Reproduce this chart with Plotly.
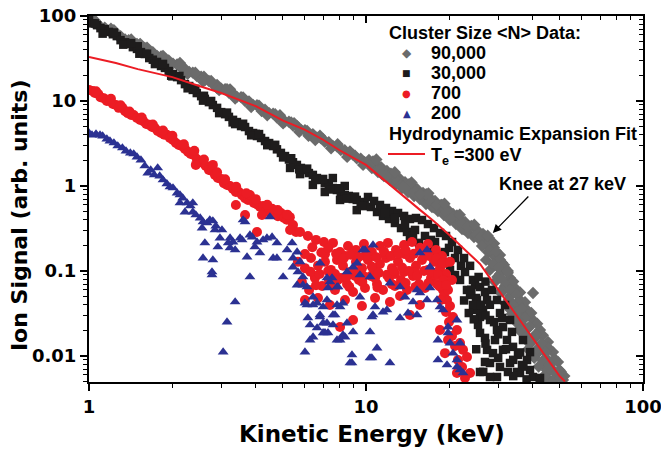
import math
import plotly.graph_objects as go

# ---------------- data (keV, ion signal) ----------------
N90000_A = [(1.00,90),(1.03,84),(1.07,81),(1.10,75),(1.14,73),(1.18,67),(1.22,65),(1.26,60),(1.30,58),(1.35,53),
            (1.39,52),(1.44,48),(1.49,47),(1.54,43),(1.59,42),(1.65,38),(1.70,37.5),(1.76,34),(1.82,33.5),(1.88,30.5),
            (1.94,30),(2.01,27.5),(2.08,27),(2.15,24.5),(2.22,24),(2.30,22),(2.37,21.6),(2.45,19.6),(2.54,19.3),(2.62,17.5),
            (2.71,17.2),(2.80,15.7),(2.90,15.5),(3.00,14.0),(3.10,13.8),(3.20,12.5),(3.31,12.3),(3.42,11.2),(3.54,11.1),(3.66,10.0),
            (3.78,9.9),(3.91,9.0),(4.04,8.9),(4.18,8.0),(4.32,7.9),(4.47,7.2),(4.62,7.1),(4.77,6.4),(4.93,6.35),(5.10,5.75),
            (5.27,5.7),(5.45,5.15),(5.63,5.1),(5.82,4.6),(6.02,4.55),(6.22,4.1),(6.43,4.08),(6.65,3.7),(6.87,3.65),(7.10,3.3),
            (7.34,3.28),(7.59,2.95),(7.85,2.93),(8.11,2.65),(8.38,2.63),(8.67,2.36),(8.96,2.35),(9.26,2.12),(9.57,2.1),(9.89,1.9),
            (1.53,47),(2.13,28),(3.23,13.7),(4.89,6.8),(6.82,3.9),(8.75,2.55),(1.2,71),(2.6,19.3),(5.5,5.5),(7.9,3.1),
            (1.8,31.5),(2.9,14.2),(4.2,7.6),(6.2,3.9)]
N90000_A2 = [(1.05,88.7),(1.12,69),(1.23,68),(1.33,51.5),(1.42,53),(1.52,41),(1.62,42.5),(1.73,33),(1.85,34),(1.98,26.3),
             (2.12,27),(2.27,20.9),(2.42,21.5),(2.58,16.9),(2.76,17.2),(2.95,13.4),(3.15,13.8),(3.37,10.7),(3.6,11),(3.85,8.5),
             (4.11,8.8),(4.4,6.8),(4.7,7.0),(5.02,5.45),(5.37,5.6),(5.74,4.35),(6.13,4.45),(6.56,3.47),(7.0,3.56),(7.48,2.78),
             (8.0,2.85),(8.55,2.2),(9.13,2.27),(9.76,1.77)]
N90000_B = [(10.25,2.02),(10.5,1.63),(10.78,1.86),(11.05,1.46),(11.33,1.67),(11.61,1.31),(11.9,1.50),(12.2,1.18),(12.52,1.35),
            (12.83,1.06),(13.16,1.24),(13.49,0.947),(13.83,1.11),(14.18,0.85),(14.54,1.03),(14.91,0.763),(15.28,0.922),(15.66,0.703),
            (16.06,0.827),(16.47,0.614),(16.88,0.742),(17.31,0.566),(17.75,0.666),(18.19,0.508),(18.65,0.598),(19.12,0.456),
            (19.61,0.536),(20.1,0.398),(20.61,0.468),(21.13,0.357),(21.66,0.42),(22.22,0.312),(22.77,0.377),(23.35,0.28),
            (23.93,0.329),(24.54,0.251),(25.16,0.304),(25.8,0.232),(26.45,0.272),(27.12,0.208),(27.8,0.244),(28.5,0.192),
            (11.2,1.55),(13.0,1.15),(15.0,0.86),(17.0,0.66),(19.5,0.5),(22.0,0.37),(25.0,0.27),
            (10.6,1.95),(11.4,1.38),(12.3,1.4),(13.3,1.02),(14.3,1.05),(15.4,0.76),(16.5,0.8),(17.6,0.56),(18.8,0.6),
            (20.0,0.41),(21.3,0.45),(22.6,0.31),(24.0,0.34),(25.5,0.245),(26.9,0.255),(28.0,0.21),(29.0,0.21),(27.0,0.23),
            (10.9,2.05),(11.8,1.3),(12.7,1.45),(13.6,0.98),(14.6,1.1),(15.7,0.8),(16.8,0.82),(18.0,0.6),(19.2,0.62),
            (20.5,0.43),(21.8,0.46),(23.2,0.33),(24.6,0.35),(26.0,0.25),(27.5,0.26)]
N90000_C = [(26.23,0.197),(27.56,0.167),(28.98,0.187),(27.12,0.135),(29.47,0.128),(30.46,0.154),(28.03,0.103),(30.46,0.0922),
            (31.76,0.108),(29.22,0.0743),(31.76,0.0666),(33.11,0.0827),(30.46,0.0566),(33.11,0.0508),(34.5,0.0631),(40.08,0.0551),
            (32.01,0.0409),(34.5,0.0388),(35.97,0.0456),(33.65,0.0312),(36.57,0.0296),(38.13,0.0348),(35.38,0.0238),(38.44,0.0214),
            (40.08,0.0265),(37.2,0.0181),(40.75,0.0163),(42.48,0.0202),(39.09,0.0138),(42.48,0.0124),(45.4,0.0146),(41.43,0.0106),
            (44.65,0.00947),(47.33,0.0111),(43.19,0.00805),(46.55,0.00722),(49.33,0.0085),(44.65,0.00614),(48.12,0.00551),
            (50.58,0.00648),(46.16,0.00508),(42.48,0.00522),(51.42,0.00522),
            (29.0,0.15),(31.0,0.125),(32.5,0.095),(34.0,0.075),(36.0,0.056),(37.5,0.043),(39.5,0.032),(41.5,0.024),
            (43.5,0.0175),(45.5,0.0125),(48.0,0.0092),(50.0,0.0068),
            (28.0,0.175),(29.5,0.17),(30.5,0.135),(28.8,0.12),(31.5,0.118),(30.0,0.11),(32.5,0.1),(29.8,0.085),(31.0,0.08),
            (33.5,0.072),(32.0,0.068),(31.2,0.058),(34.8,0.054),(33.0,0.06),(32.8,0.046),(35.5,0.042),(34.0,0.04),(33.2,0.035),
            (36.5,0.036),(35.0,0.033),(34.6,0.027),(37.5,0.028),(36.2,0.024),(35.8,0.02),(39.0,0.022),(37.8,0.017),(41.0,0.018),
            (39.5,0.015),(38.5,0.012),(43.0,0.014),(41.5,0.012),(40.5,0.0095),(44.5,0.011),(43.5,0.0088),(42.0,0.0075),
            (46.0,0.0078),(45.0,0.0068),(44.0,0.0058),(48.5,0.0062),(47.5,0.0052),(52.0,0.0058),(50.5,0.0055)]

N30000_A = [(1.00,89.5),(1.03,82),(1.07,78),(1.10,72),(1.14,70),(1.18,65),(1.22,61),(1.26,58),(1.30,52),(1.35,49),(1.39,47),
            (1.44,43),(1.49,41),(1.54,37.6),(1.59,35.7),(1.65,32),(1.70,30.6),(1.76,28.8),(1.82,25.8),(1.88,24.5),(1.94,22.5),
            (2.01,20.8),(2.08,19.1),(2.15,17.6),(2.22,15.8),(2.30,15.0),(2.37,13.5),(2.45,12.4),(2.54,11.4),(2.62,10.6),(2.71,9.7),
            (2.80,8.96),(2.90,8.3),(3.00,7.4),(3.10,7.0),(3.20,6.5),(3.31,6.0),(3.42,5.65),(3.54,5.07),(3.66,4.94),(3.78,4.43),
            (3.91,4.20),(4.04,3.87),(4.18,3.67),(4.32,3.38),(4.47,3.20),(4.62,2.95),(4.77,2.70),(4.93,2.45),(5.10,2.25),(5.27,2.05),
            (5.45,1.90),(5.63,1.77),(5.82,1.63),(6.02,1.54),(6.22,1.42),(6.43,1.35),(6.65,1.24),(6.87,1.18),(7.10,1.08),(7.34,1.03),
            (7.59,0.947),(7.85,0.897),(8.11,0.85),(8.38,0.784),(8.67,0.763),(8.96,0.703),(9.26,0.685),(9.57,0.648),(9.89,0.614),
            (7.59,1.24),(6.43,1.03),(8.38,1.0),(9.26,0.52),(8.06,0.685),(7.10,0.85),(5.78,1.38),(5.32,1.63),
            (1.5,44),(2.0,19.5),(2.6,11.5),(3.3,5.6),(4.0,4.1)]
N30000_A2 = [(1.05,82),(1.12,62),(1.23,64),(1.33,46),(1.42,48),(1.52,36),(1.62,36),(1.73,27.2),(1.85,27.3),(1.98,19.8),
             (2.12,19.7),(2.27,14.1),(2.42,13.9),(2.58,10.1),(2.76,10.0),(2.95,7.2),(3.15,7.3),(3.37,5.35),(3.6,5.4),(3.85,3.95),
             (4.11,4.08),(4.4,3.02),(4.7,3.05),(5.02,2.17),(5.37,2.12),(5.74,1.57),(6.13,1.6),(6.56,1.18),(7.0,1.21),(7.48,0.91),
             (8.0,0.94),(8.55,0.71),(9.13,0.75),(9.76,0.58)]
N30000_B = [(10.17,0.742),(10.42,0.566),(10.69,0.666),(10.96,0.494),(11.23,0.598),(11.52,0.444),(11.81,0.551),(12.11,0.409),
            (12.41,0.508),(12.72,0.367),(13.05,0.481),(13.38,0.320),(13.72,0.444),(14.06,0.288),(14.41,0.409),(14.78,0.258),
            (15.15,0.420),(15.54,0.214),(15.93,0.398),(16.33,0.182),(16.74,0.357),(17.17,0.232),(17.6,0.320),(18.05,0.158),
            (18.5,0.280),(18.97,0.128),(19.45,0.258),(19.94,0.187),(20.44,0.219),(20.96,0.0897),(21.48,0.177),(22.03,0.115),
            (22.59,0.142),(23.15,0.0598),(23.75,0.115),(24.34,0.0784),(24.95,0.0481),
            (11.71,0.481),(12.72,0.420),(13.83,0.357),(15.03,0.304),(16.33,0.258),(17.75,0.219),(19.28,0.167),(20.96,0.142),
            (22.77,0.0973),(24.75,0.0684),(14.41,0.232),(17.02,0.177),(20.1,0.103),(21.85,0.0784)]
N30000_C = [(25.8,0.0648),(27.35,0.0456),(26.45,0.0348),(28.03,0.0265),(29.71,0.0456),(30.46,0.0320),(29.71,0.0202),
            (31.23,0.0219),(33.11,0.0265),(32.28,0.0154),(33.94,0.0128),(27.35,0.0118),(28.03,0.00827),(30.46,0.00743),
            (33.11,0.00827),(35.97,0.00631),(39.09,0.00684),(40.08,0.00566),(36.88,0.0154),(31.23,0.0118),(28.74,0.0108),
            (25.8,0.0187),(25.8,0.0288),(29.71,0.00566),(32.55,0.00648),(28.03,0.00566),(39.09,0.0111),(36.57,0.00784),
            (35.09,0.00648),(25.8,0.00648),(25.16,0.0456),(26.89,0.0566),(28.5,0.0598),(24.75,0.0348),(25.37,0.0232),
            (26.89,0.0163),(29.22,0.0154),(31.76,0.0398),(33.65,0.0192),(35.38,0.0103),(38.13,0.00897),(42.48,0.00551),
            (26.89,0.0085),(23.75,0.0522),(24.34,0.0398),
            (26.0,0.04),(27.0,0.03),(28.0,0.04),(29.0,0.025),(30.0,0.018),(31.0,0.028),(32.0,0.012),(34.0,0.009),(36.0,0.011),
            (37.0,0.0075),(30.0,0.0095),(27.0,0.014),(25.0,0.012),(26.5,0.0065),(34.0,0.0058),(38.0,0.0053),(24.5,0.027),
            (23.5,0.032),(22.6,0.045),(24.0,0.06),(25.5,0.085),(27.0,0.075)]

N700_A = [(1.00,13.5),(1.03,13.1),(1.05,12.4),(1.08,12.1),(1.10,11.1),(1.13,10.8),(1.16,10.0),(1.19,10.0),(1.22,9.2),(1.25,8.96),
          (1.28,8.3),(1.32,8.3),(1.35,7.6),(1.38,7.2),(1.42,6.85),(1.45,6.85),(1.49,6.3),(1.53,6.0),(1.57,5.8),(1.61,5.35),
          (1.65,5.24),(1.69,4.94),(1.73,4.8),(1.77,4.43),(1.82,4.2),(1.87,4.0),(1.91,4.0),(1.96,3.67),(2.01,3.48),(2.06,3.2),
          (2.11,3.04),(2.16,2.95),(2.22,2.73),(2.28,2.51),(2.33,2.38),(2.39,2.32),(2.45,2.08),(2.52,1.91),(2.58,1.86),(2.64,1.72),
          (2.71,1.54),(2.78,1.50),(2.85,1.35),(2.92,1.24),(3.00,1.21),(3.07,1.08),(3.15,1.03),(3.23,1.00),(3.31,0.92),(3.39,0.85),
          (3.48,0.85),(3.57,0.78),(3.66,0.72),(3.75,0.685),(3.84,0.70),(3.94,0.63),(4.04,0.61),(4.14,0.57),(4.25,0.58),(4.36,0.52),
          (4.47,0.49),(4.58,0.54),(4.69,0.47),(4.81,0.44),(4.93,0.48),(5.06,0.42),(5.18,0.40),(5.31,0.43),
          (2.43,1.77),(2.80,1.77),(3.81,0.784),(4.21,0.456),(5.45,0.348),(5.59,0.288),(4.04,0.288),(3.66,0.456),(3.39,0.598),
          (5.32,0.304),
          (1.06,13.0),(1.2,10.6),(1.3,8.9),(1.4,7.5),(1.55,6.4),(1.7,5.3),(1.85,4.5),(2.0,3.9),(2.2,3.1),(2.4,2.6),(2.6,2.05),
          (2.9,1.45),(3.1,1.2),(3.4,0.98),(3.7,0.82),(4.0,0.7),(4.4,0.6),(4.8,0.52),(5.2,0.46)]
N700_B = [(5.78,0.288),(6.17,0.258),(6.60,0.232),(7.05,0.219),(7.60,0.214),(8.06,0.167),(8.61,0.197),(9.20,0.177),(9.83,0.208),
          (10.5,0.167),(11.23,0.197),(12.0,0.214),(12.83,0.177),(13.72,0.202),(14.66,0.219),(15.66,0.187),(16.74,0.208),
          (17.89,0.177),(18.81,0.150),
          (5.68,0.128),(6.02,0.108),(6.33,0.142),(6.71,0.115),(7.11,0.128),(7.47,0.103),(7.86,0.135),(8.26,0.115),(8.75,0.0973),
          (9.20,0.128),(9.67,0.108),(10.17,0.135),(10.69,0.103),(11.23,0.121),(11.81,0.142),(12.41,0.108),(13.05,0.128),
          (13.72,0.0973),(14.41,0.142),(15.15,0.115),(15.93,0.135),(16.74,0.103),(17.6,0.128),(18.5,0.108),(19.45,0.0922),
          (5.87,0.0743),(6.23,0.0598),(6.54,0.0827),(6.94,0.0666),(7.35,0.0784),(7.73,0.0598),(8.12,0.0827),(8.54,0.0703),
          (8.98,0.0566),(9.43,0.0784),(9.92,0.0631),(10.42,0.0873),(10.96,0.0703),(11.52,0.0598),(12.11,0.0827),(12.72,0.0666),
          (13.38,0.0784),(14.06,0.0598),(14.78,0.0873),(15.54,0.0703),(16.33,0.0631),(17.17,0.0827),(18.05,0.0703),(18.97,0.0598),
          (6.02,0.158),(6.54,0.0873),(7.11,0.158),(7.73,0.0922),(8.40,0.150),(9.13,0.0873),(9.92,0.150),(10.78,0.0827),
          (11.71,0.158),(12.72,0.0922),(13.83,0.158),(15.03,0.0973),(16.33,0.154),(17.75,0.0897),(19.28,0.124),
          (6.02,0.0456),(6.71,0.0481),(8.06,0.0219),(8.98,0.0265),(7.41,0.0398),(8.40,0.0456),(9.67,0.0388),(10.78,0.0481),
          (12.2,0.0432),(14.41,0.0304),(15.66,0.0398),(13.27,0.0508),
          (6.4,0.19),(6.9,0.165),(7.3,0.185),(7.8,0.16),(8.3,0.14),(8.8,0.155),(9.4,0.145),(10.0,0.175),(10.9,0.145),(11.6,0.17),
          (12.3,0.15),(13.1,0.16),(13.9,0.175),(14.9,0.16),(15.9,0.17),(16.9,0.15),(17.9,0.14),(18.9,0.125),
          (6.3,0.098),(6.8,0.092),(7.3,0.1),(7.9,0.078),(8.5,0.085),(9.1,0.1),(9.8,0.087),(10.5,0.112),(11.1,0.095),(11.9,0.09),
          (12.6,0.1),(13.5,0.11),(14.3,0.1),(15.3,0.088),(16.2,0.1),(17.2,0.098),(18.2,0.09),(19.0,0.078),
          (6.6,0.068),(7.6,0.07),(8.7,0.065),(9.7,0.074),(11.0,0.064),(12.4,0.07),(13.9,0.072),(15.1,0.065),(16.8,0.072),(18.4,0.066)]
N700_C = [(19.12,0.0508),(19.61,0.0456),(20.1,0.0388),(19.45,0.0329),(20.61,0.0288),(19.94,0.0251),(21.30,0.0202),(20.44,0.0172),
          (21.85,0.0142),(20.96,0.0131),(22.4,0.0118),(19.28,0.0108),(23.15,0.00973),(21.48,0.00897),(22.22,0.00743),
          (23.75,0.00631),(21.30,0.00631),(22.77,0.00551),(18.5,0.0202),(19.77,0.0154),
          (20.1,0.128),(20.44,0.0784),(19.77,0.0598),(18.65,0.0456),(19.45,0.0684)]

N200_A = [(1.00,4.20),(1.025,3.98),(1.06,4.09),(1.096,3.98),(1.12,3.87),(1.16,3.57),(1.19,3.38),(1.23,3.21),(1.27,2.96),(1.32,2.80),
          (1.36,2.58),(1.41,2.44),(1.45,2.38),(1.49,2.19),(1.54,2.02),(1.59,1.72),(1.63,1.42),(1.67,1.54),(1.72,1.35),(1.77,1.63),
          (1.80,1.31),(1.85,1.18),(1.91,1.06),(1.96,0.973),(2.01,0.947),(2.08,0.827),(2.13,0.784),(2.18,0.722),(2.26,0.631),
          (2.32,0.582),(2.37,0.494),(2.43,0.456),(2.52,0.420),(2.58,0.377),(2.67,0.367),(2.73,0.398),(2.80,0.388),(2.87,0.338),
          (2.13,0.631),(2.37,0.631),(2.22,0.494)]
N200_B = [(2.56,0.320),(2.85,0.304),(3.02,0.304),(2.62,0.214),(2.58,0.142),(2.80,0.135),(2.78,0.0973),(2.92,0.192),(3.18,0.214),
          (3.23,0.244),(3.37,0.177),(3.57,0.232),(3.66,0.377),(3.88,0.251),(3.97,0.192),(4.14,0.163),(3.81,0.0850),(3.72,0.146),
          (3.37,0.0432),(3.15,0.0251),(3.05,0.0111),(4.25,0.232),(4.58,0.251),(4.77,0.214),(4.77,0.142),(5.02,0.0850),(5.19,0.177),
          (5.41,0.214),(5.64,0.167),(5.45,0.111),(5.68,0.0973),(5.92,0.0850),(6.12,0.0648),(5.64,0.0684),(6.02,0.0420),
          (6.44,0.0494),(6.66,0.0420),(6.17,0.0280),(6.82,0.0288),(6.66,0.0214),(6.44,0.0167),(6.28,0.0154),(7.23,0.0244),
          (7.00,0.0187),(7.29,0.0187),(6.02,0.0111),(7.86,0.0154),(7.73,0.0304),(7.86,0.0648),(7.23,0.0456),(7.54,0.0827),
          (7.29,0.0631),(8.06,0.0377),(3.60,0.398),(4.50,0.432),(2.97,0.244),(3.31,0.219),(3.51,0.244),(3.81,0.265),(4.04,0.219),
          (4.39,0.244),(4.62,0.142),(5.78,0.128),(5.92,0.0684),(6.12,0.0398),(6.44,0.0398),(2.78,0.0897),(3.23,0.187),
          (5.45,0.142),(6.28,0.0232),(6.82,0.0304)]
N200_C = [(6.82,0.124),(7.23,0.0827),(7.00,0.0377),(7.00,0.0244),(7.11,0.0187),(7.60,0.0304),(7.86,0.0398),(7.93,0.0648),
          (8.26,0.0420),(8.54,0.0244),(8.40,0.0167),(8.90,0.0103),(8.90,0.00827),(8.06,0.0154),(8.98,0.111),(9.51,0.0494),
          (9.28,0.124),(9.92,0.177),(10.34,0.0850),(10.5,0.0288),(10.96,0.0124),(10.5,0.00947),(10.78,0.0377),(11.9,0.0348),
          (12.2,0.00827),(12.2,0.0722),(13.27,0.0648),(13.83,0.0494),(15.28,0.0598),(15.28,0.0304),(14.18,0.0320),(15.66,0.163),
          (16.61,0.177),(17.02,0.111),(18.05,0.0456),(18.19,0.0154),(18.97,0.0348),(19.77,0.0187),(20.1,0.0142),(20.61,0.0108),
          (21.30,0.0265),(21.85,0.0142),(21.30,0.00743),(15.66,0.0551),(16.61,0.0456),(18.5,0.0377),(19.77,0.0219),
          (18.19,0.00897),(21.30,0.00897),(21.85,0.00684),(22.4,0.00631),(9.75,0.177),(10.6,0.202),(9.51,0.0897),(8.54,0.0973),
          (7.41,0.0743),(7.60,0.0232),(8.26,0.0177),(8.98,0.0192),(10.6,0.0304),(11.52,0.0329),(13.27,0.0280),(10.34,0.0192),
          (8.75,0.00827),(10.34,0.00947),(14.78,0.0432),(17.02,0.0631),(19.61,0.00784)]

FIT_E = [1.0, 1.25, 1.5, 2.0, 2.5, 3.0, 4.0, 5.0, 6.0, 7.0, 8.0, 10, 12, 14, 15.7, 17.5, 20, 23, 25.8, 28, 30.4, 33, 36, 40, 45, 50, 52.3]
FIT_S = [33, 28, 23.7, 19.1, 15.0, 12.4, 8.7, 5.9, 4.6, 3.5, 2.65, 1.77, 1.08, 0.72, 0.52, 0.39, 0.265, 0.172, 0.121, 0.083,
         0.057, 0.039, 0.026, 0.0159, 0.0095, 0.0058, 0.005]

SERIES = ["90,000", "30,000", "700", "200"]
X_TICKS = [1, 10, 100]
X_TICK_TEXT = ["1", "10", "100"]
Y_TICKS = [0.01, 0.1, 1, 10, 100]
Y_TICK_TEXT = ["0.01", "0.1", "1", "10", "100"]
KNEE_E, KNEE_S = 28.7, 0.28

# ---------------- figure ----------------
X_RANGE = [0, 2]
Y_RANGE = [math.log10(0.00494), 2]
MINOR_X = [m * 10 ** d for d in range(0, 2) for m in range(2, 10)]
MINOR_Y = [m * 10 ** d for d in range(-3, 2) for m in range(2, 10)]

styles = [
    (N90000_A + N90000_A2 + N90000_B + N90000_C, "diamond", 9.5, "#6b6b6b"),
    (N30000_A + N30000_A2 + N30000_B + N30000_C, "square", 8.5, "#1e1c1c"),
    (N700_A + N700_B + N700_C, "circle", 10, "#ec1c24"),
    (N200_A + N200_B + N200_C, "triangle-up", 9.5, "#2b3192"),
]

fig = go.Figure()
for (pairs, sym, size, col), name in zip(styles, SERIES):
    fig.add_trace(go.Scatter(
        x=[p[0] for p in pairs], y=[p[1] for p in pairs], mode="markers", name=name,
        marker=dict(symbol=sym, size=size, color=col, line=dict(width=0)),
        showlegend=False, hoverinfo="skip"))

fig.add_trace(go.Scatter(x=FIT_E, y=FIT_S, mode="lines", line=dict(color="#ec1c24", width=2),
                         showlegend=False, hoverinfo="skip"))
# carrier for the mirrored (inward-tick) top/right axes
fig.add_trace(go.Scatter(x=[], y=[], xaxis="x2", yaxis="y2", showlegend=False))

TICKFONT = dict(family="DejaVu Sans", size=18, color="black", weight="bold")
common = dict(type="log", showgrid=False, zeroline=False, tickmode="array", automargin=False)

fig.update_layout(
    width=661, height=450,
    margin=dict(l=89, r=18, t=16, b=68, pad=0, autoexpand=False),
    paper_bgcolor="white", plot_bgcolor="white",
    xaxis=dict(**common, range=X_RANGE, tickvals=X_TICKS, ticktext=X_TICK_TEXT,
               ticks="outside", ticklen=7, tickwidth=1.5, tickcolor="black", ticklabeloverflow="allow",
               showline=True, linewidth=2, linecolor="black", mirror=True, tickfont=TICKFONT,
               minor=dict(tickmode="array", tickvals=MINOR_X, ticks="outside", ticklen=4,
                          tickwidth=1.2, tickcolor="black", showgrid=False)),
    yaxis=dict(**common, range=Y_RANGE, tickvals=Y_TICKS, ticktext=Y_TICK_TEXT,
               ticks="outside", ticklen=7, tickwidth=1.5, tickcolor="black", ticklabeloverflow="allow",
               showline=True, linewidth=2, linecolor="black", mirror=True, tickfont=TICKFONT,
               minor=dict(tickmode="array", tickvals=MINOR_Y, ticks="outside", ticklen=4,
                          tickwidth=1.2, tickcolor="black", showgrid=False)),
    xaxis2=dict(**common, range=X_RANGE, tickvals=X_TICKS, overlaying="x", side="top", anchor="y",
                showticklabels=False, ticks="inside", ticklen=7, tickwidth=1.5, tickcolor="black",
                showline=False,
                minor=dict(tickmode="array", tickvals=MINOR_X, ticks="inside", ticklen=4,
                           tickwidth=1.2, tickcolor="black", showgrid=False)),
    yaxis2=dict(**common, range=Y_RANGE, tickvals=Y_TICKS, overlaying="y", side="right", anchor="x",
                showticklabels=False, ticks="inside", ticklen=7, tickwidth=1.5, tickcolor="black",
                showline=False,
                minor=dict(tickmode="array", tickvals=MINOR_Y, ticks="inside", ticklen=4,
                           tickwidth=1.2, tickcolor="black", showgrid=False)),
    showlegend=False,
)

LEG = dict(family="Liberation Sans", size=18, color="black", weight="bold")
TITLE = dict(family="DejaVu Sans", size=23, color="black", weight="bold")
ann = []
ann.append(dict(text="Kinetic Energy (keV)", x=0.511, y=-0.142, xref="paper", yref="paper",
                showarrow=False, font=TITLE, xanchor="center", yanchor="middle"))
ann.append(dict(text="Ion Signal (arb. units)", x=-0.1264, y=0.456, xref="paper", yref="paper",
                showarrow=False, font=dict(TITLE, size=22), textangle=-90, xanchor="center", yanchor="middle"))
ann.append(dict(text="Cluster Size &lt;N&gt; Data:", x=0.538, y=0.9536, xref="paper", yref="paper",
                showarrow=False, font=LEG, xanchor="left", yanchor="middle"))
glyphs = [("◆", 12, "#6b6b6b"), ("■", 9, "#1e1c1c"), ("●", 10, "#ec1c24"), ("▲", 10, "#2b3192")]
for i, ((g, gs, gc), name) in enumerate(zip(glyphs, SERIES)):
    yy = 0.8989 - i * 0.05465
    ann.append(dict(text=g, x=0.574, y=yy, xref="paper", yref="paper", showarrow=False,
                    font=dict(family="DejaVu Sans", size=gs, color=gc), xanchor="center", yanchor="middle"))
    ann.append(dict(text=name, x=0.613, y=yy, xref="paper", yref="paper", showarrow=False,
                    font=LEG, xanchor="left", yanchor="middle"))
ann.append(dict(text="Hydrodynamic Expansion Fit", x=0.538, y=0.6776, xref="paper", yref="paper",
                showarrow=False, font=LEG, xanchor="left", yanchor="middle"))
ann.append(dict(text="T<sub>e</sub> =300 eV", x=0.613, y=0.616, xref="paper", yref="paper",
                showarrow=False, font=LEG, xanchor="left", yanchor="middle"))
ann.append(dict(text="Knee at 27 keV", x=0.8538, y=0.541, xref="paper", yref="paper",
                showarrow=False, font=LEG, xanchor="center", yanchor="middle"))
ann.append(dict(text="", x=math.log10(KNEE_E), y=math.log10(KNEE_S), xref="x", yref="y",
                showarrow=True, ax=37, ay=-38, arrowhead=2, arrowsize=1.3, arrowwidth=1.3,
                arrowcolor="black"))
fig.update_layout(annotations=ann)
fig.add_shape(type="line", xref="paper", yref="paper", x0=0.5397, x1=0.6065, y0=0.623, y1=0.623,
              line=dict(color="#ec1c24", width=2))

fig.write_html("out.html")
